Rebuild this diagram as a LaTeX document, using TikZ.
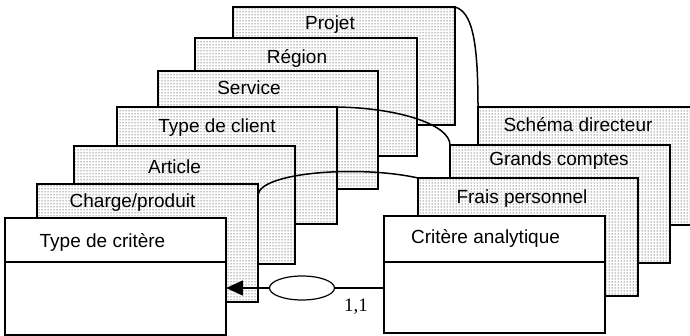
\documentclass[tikz,border=0pt]{standalone}
\usepackage{fontspec}
\setmainfont{Liberation Sans}
\newfontfamily\timesf{Liberation Serif}
\usetikzlibrary{patterns,arrows.meta,shapes.geometric}
\begin{document}
\begin{tikzpicture}[x=1pt,y=-1pt,
 stk/.style={draw=black, line width=1.5pt, preaction={fill=white}, pattern=dots, pattern color=black, anchor=north west, minimum width=221pt, minimum height=118pt, inner sep=0pt, outer sep=0pt},
 cls/.style={draw=black, line width=1.5pt, fill=white, anchor=north west, minimum width=221pt, minimum height=117pt, inner sep=0pt, outer sep=0pt},
 lbl/.style={font=\fontsize{19}{22}\selectfont, inner sep=0pt},
 link/.style={line width=1.5pt}]
\useasboundingbox (0,0) rectangle (690,336);
% left stack
\node[stk, minimum width=222pt] (proj) at (233,7) {};
\node[lbl] (projT) at ([xshift=-14pt,yshift=-18pt]proj.north) {Projet};
\node[stk, minimum width=222pt] (reg) at (195,38) {};
\node[lbl] (regT) at ([xshift=-9pt,yshift=-20pt]reg.north) {Région};
\node[stk, minimum width=220pt] (serv) at (158,71) {};
\node[lbl] (servT) at ([xshift=-19pt,yshift=-17pt]serv.north) {Service};
\node[stk, minimum width=220pt, minimum height=117pt] (tcli) at (117,107) {};
\node[lbl] (tcliT) at ([xshift=-10pt,yshift=-21pt]tcli.north) {Type de client};
\node[stk] (art) at (74,146) {};
\node[lbl] (artT) at ([xshift=-10pt,yshift=-21pt]art.north) {Article};
\node[stk] (cp) at (37,184) {};
\node[lbl] (cpT) at ([xshift=-15pt,yshift=-19pt]cp.north) {Charge/produit};
\node[cls] (tc) at (5,218) {};
\node[lbl] (tcT) at ([xshift=-13pt,yshift=-24pt]tc.north) {Type de critère};
\draw[line width=1.5pt] ([yshift=-44pt]tc.north west) -- ([yshift=-44pt]tc.north east);
% right stack
\node[stk, minimum width=230pt] (schema) at (478,107) {};
\node[lbl] (schemaT) at (578,125) {Schéma directeur};
\node[stk, minimum width=220pt] (gc) at (450,145) {};
\node[lbl] (gcT) at ([xshift=-1pt,yshift=-16pt]gc.north) {Grands comptes};
\node[stk, minimum width=220pt] (fp) at (418,178) {};
\node[lbl] (fpT) at ([xshift=-6pt,yshift=-21pt]fp.north) {Frais personnel};
\node[cls] (ca) at (384,216) {};
\node[lbl] (caT) at ([xshift=-9pt,yshift=-22pt]ca.north) {Critère analytique};
\draw[line width=1.5pt] ([yshift=-46pt]ca.north west) -- ([yshift=-46pt]ca.north east);
% association
\node[draw, ellipse, line width=1.2pt, minimum width=65pt, minimum height=24pt, inner sep=0pt] (rel) at (302,288) {};
\draw[link] (ca.west |- rel) -- (rel);
\draw[link, -{Triangle[length=17pt,width=15pt]}] (rel) -- (tc.east |- rel);
\node[font=\timesf\fontsize{19}{22}\selectfont, inner sep=0pt] (card) at (356,307) {1,1};
% curved links
\draw[link] (proj.north east) .. controls (472,12) and (478,40) .. (schema.north west);
\draw[link] (tcli.north east) .. controls (400,108) and (450,125) .. (gc.north west);
\draw[link] ([yshift=-11pt]cp.north east) .. controls (260,172) and (360,165) .. (fp.north west);
\end{tikzpicture}
\end{document}
